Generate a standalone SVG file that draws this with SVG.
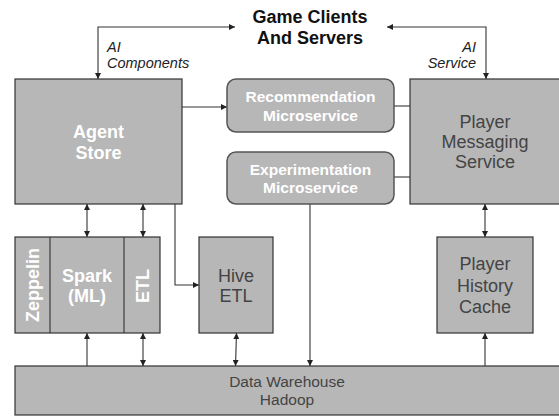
<svg xmlns="http://www.w3.org/2000/svg" width="559" height="417" viewBox="0 0 559 417">
<style>
.box{fill:#b7b7b7;stroke:#333;stroke-width:1.2}
.rbox{fill:#b7b7b7;stroke:#555;stroke-width:1.5}
.ln{fill:none;stroke:#333;stroke-width:1.1}
.wb{font-family:"Liberation Sans",Arial,sans-serif;font-weight:bold;fill:#fff;text-anchor:middle}
.gt{font-family:"Liberation Sans",Arial,sans-serif;fill:#444;text-anchor:middle}
.it{font-family:"Liberation Sans",Arial,sans-serif;font-style:italic;fill:#222;font-size:14.5px}
.tt{font-family:"Liberation Sans",Arial,sans-serif;font-weight:bold;fill:#111;font-size:18px;text-anchor:middle}
</style>
<defs>
<marker id="ah" viewBox="0 0 10 10" refX="10" refY="5" markerWidth="6" markerHeight="6" markerUnits="userSpaceOnUse" orient="auto-start-reverse">
<path d="M0,0 L10,5 L0,10 Z" fill="#222"/>
</marker>
</defs>
<g id="title">
<text class="tt" x="310" y="23">Game Clients</text>
<text class="tt" x="310" y="44">And Servers</text>
</g>
<g id="label-ai-components">
<text class="it" x="107" y="52">AI</text>
<text class="it" x="107" y="68">Components</text>
</g>
<g id="label-ai-service">
<text class="it" x="476" y="52" text-anchor="end">AI</text>
<text class="it" x="476" y="68" text-anchor="end">Service</text>
</g>
<g id="connectors">
<path class="ln" d="M98,79 V27 H235" marker-start="url(#ah)" marker-end="url(#ah)"/>
<path class="ln" d="M387,27 H486 V79" marker-start="url(#ah)" marker-end="url(#ah)"/>
<path class="ln" d="M182,107 H227" marker-end="url(#ah)"/>
<path class="ln" d="M394,106 H410"/>
<path class="ln" d="M394,177 H410"/>
<path class="ln" d="M87,204 V237" marker-start="url(#ah)" marker-end="url(#ah)"/>
<path class="ln" d="M143,204 V237" marker-start="url(#ah)" marker-end="url(#ah)"/>
<path class="ln" d="M175,204 V285 H199" marker-end="url(#ah)"/>
<path class="ln" d="M87,366 V333" marker-end="url(#ah)"/>
<path class="ln" d="M143,333 V366" marker-start="url(#ah)" marker-end="url(#ah)"/>
<path class="ln" d="M236.5,333 L235.5,366" marker-start="url(#ah)" marker-end="url(#ah)"/>
<path class="ln" d="M310,204 V366" marker-end="url(#ah)"/>
<path class="ln" d="M485,204 V237" marker-start="url(#ah)" marker-end="url(#ah)"/>
<path class="ln" d="M485,366 V333" marker-end="url(#ah)"/>
</g>
<g id="agent-store">
<rect class="box" x="15" y="79" width="167" height="125"/>
<text class="wb" x="98.5" y="138" font-size="18">Agent</text>
<text class="wb" x="98.5" y="159" font-size="18">Store</text>
</g>
<g id="recommendation">
<rect class="rbox" x="227" y="79" width="167" height="53" rx="9"/>
<text class="wb" x="310.5" y="102" font-size="15.5">Recommendation</text>
<text class="wb" x="310.5" y="121" font-size="15.5">Microservice</text>
</g>
<g id="experimentation">
<rect class="rbox" x="227" y="152" width="167" height="52" rx="9"/>
<text class="wb" x="310.5" y="175" font-size="15.5">Experimentation</text>
<text class="wb" x="310.5" y="193" font-size="15.5">Microservice</text>
</g>
<g id="player-messaging">
<rect class="box" x="410" y="79" width="160" height="125"/>
<text class="gt" x="485" y="128" font-size="18">Player</text>
<text class="gt" x="485" y="148" font-size="18">Messaging</text>
<text class="gt" x="485" y="168" font-size="18">Service</text>
</g>
<g id="spark-group">
<rect class="box" x="15" y="237" width="145" height="96"/>
<line class="ln" x1="50" y1="237" x2="50" y2="333"/>
<line class="ln" x1="124" y1="237" x2="124" y2="333"/>
<text class="wb" x="87" y="282" font-size="18">Spark</text>
<text class="wb" x="87" y="302" font-size="18">(ML)</text>
<text class="wb" transform="translate(39,285) rotate(-90)" x="0" y="0" font-size="18">Zeppelin</text>
<text class="wb" transform="translate(148.5,286) rotate(-90)" x="0" y="0" font-size="18">ETL</text>
</g>
<g id="hive-etl">
<rect class="box" x="199" y="237" width="74" height="96"/>
<text class="gt" x="236" y="282" font-size="18">Hive</text>
<text class="gt" x="236" y="302" font-size="18">ETL</text>
</g>
<g id="player-history">
<rect class="box" x="437" y="237" width="96" height="96"/>
<text class="gt" x="485" y="270" font-size="18">Player</text>
<text class="gt" x="485" y="292" font-size="18">History</text>
<text class="gt" x="485" y="313" font-size="18">Cache</text>
</g>
<g id="data-warehouse">
<rect class="box" x="15" y="366" width="560" height="49"/>
<text class="gt" x="287" y="387" font-size="15.5">Data Warehouse</text>
<text class="gt" x="287" y="405" font-size="15.5">Hadoop</text>
</g>
</svg>
